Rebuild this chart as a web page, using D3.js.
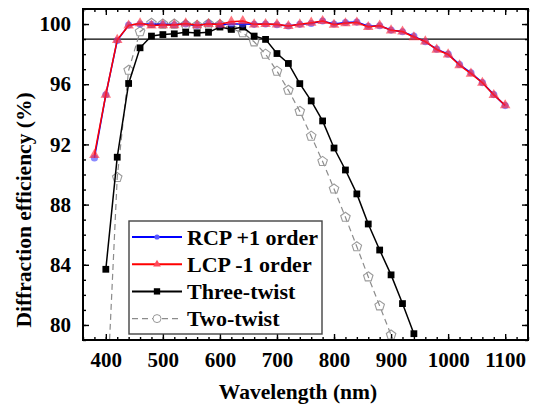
<!DOCTYPE html>
<html>
<head>
<meta charset="utf-8">
<script src="https://cdn.jsdelivr.net/npm/d3@7"></script>
<style>
  body { margin: 0; background: #fff; }
</style>
</head>
<body>
<div id="chart"></div>
<script>
// wavelength (nm) sampled every 20 nm
var wavelength = [380, 400, 420, 440, 460, 480, 500, 520, 540, 560,
  580, 600, 620, 640, 660, 680, 700, 720, 740, 760,
  780, 800, 820, 840, 860, 880, 900, 920, 940, 960,
  980, 1000, 1020, 1040, 1060, 1080, 1100];

var rcpPlus1 = [91.1, 95.3, 98.9, 99.93, 100.0, 99.98, 99.98, 99.95, 100.0, 99.9,
  100.04, 99.95, 100.0, 100.0, 99.98, 100.0, 99.95, 99.87, 99.98, 100.04,
  100.2, 100.0, 100.1, 100.13, 99.85, 99.89, 99.6, 99.49, 99.2, 98.82,
  98.33, 98.0, 97.31, 96.76, 96.11, 95.31, 94.58];

var lcpMinus1 = [91.3, 95.3, 98.95, 99.9, 100.05, 99.9, 99.93, 99.93, 100.04, 99.92,
  100.0, 99.98, 100.16, 100.2, 99.98, 100.0, 99.98, 99.87, 99.98, 100.09,
  100.2, 99.95, 100.05, 100.1, 99.8, 99.9, 99.58, 99.5, 99.12, 98.85,
  98.3, 97.98, 97.26, 96.7, 96.1, 95.28, 94.6];

var threeTwistWl = [400, 420, 440, 460, 480, 500, 520, 540, 560, 580,
  600, 620, 640, 660, 680, 700, 720, 740, 760, 780,
  800, 820, 840, 860, 880, 900, 920, 940];
var threeTwist = [83.7, 91.15, 96.05, 98.42, 99.2, 99.3, 99.35, 99.45, 99.4, 99.45,
  99.8, 99.65, 99.8, 99.2, 98.98, 98.04, 97.38, 96.04, 94.89, 93.56,
  91.76, 90.3, 88.71, 86.71, 84.98, 83.33, 81.42, 79.42];

var twoTwistWl = [400, 420, 440, 460, 480, 500, 520, 540, 560, 580,
  600, 620, 640, 660, 680, 700, 720, 740, 760, 780,
  800, 820, 840, 860, 880, 900];
var twoTwist = [73.7, 89.8, 96.93, 99.49, 100.05, 100.0, 100.0, 99.95, 99.9, 100.0,
  99.95, 99.71, 99.42, 98.82, 98.0, 96.87, 95.6, 94.2, 92.55, 90.87,
  89.04, 87.16, 85.2, 83.2, 81.27, 79.33];

var xTicks = [400, 500, 600, 700, 800, 900, 1000, 1100];
var yTicks = [80, 84, 88, 92, 96, 100];
var refLevel = 99;
var legendLabels = ['RCP +1 order', 'LCP -1 order', 'Three-twist', 'Two-twist'];

var FONT = '"Liberation Serif"';

var W = 536, H = 410,
    margin = {top: 9, right: 8, bottom: 70, left: 83},
    plotW = W - margin.left - margin.right,
    plotH = H - margin.top - margin.bottom;

var x = d3.scaleLinear().domain([360, 1140]).range([0, plotW]),
    y = d3.scaleLinear().domain([79, 101]).range([plotH, 0]);

var svg = d3.select('#chart').append('svg').attr('width', W).attr('height', H);
var g = svg.append('g').attr('transform', 'translate(' + margin.left + ',' + margin.top + ')');

g.append('defs').append('clipPath').attr('id', 'plot-clip')
  .append('rect').attr('width', plotW).attr('height', plotH);

function zip(xs, ys) {
  return xs.map(function (d, i) { return {x: d, y: ys[i]}; });
}

var series = [
  {name: legendLabels[3], data: zip(twoTwistWl, twoTwist), color: '#8c8c8c', dash: '6,4', marker: 'pent'},
  {name: legendLabels[2], data: zip(threeTwistWl, threeTwist), color: '#000', dash: null, marker: 'square'},
  {name: legendLabels[0], data: zip(wavelength, rcpPlus1), color: '#0000ff', dash: null, marker: 'circle'},
  {name: legendLabels[1], data: zip(wavelength, lcpMinus1), color: '#ff0000', dash: null, marker: 'tri'}
];

// axes: ticks point inward on all four sides
function tickAxes() {
  var xMinor = d3.range(360, 1141, 20), yMinor = d3.range(79, 101.1, 1);
  var bottom = g.append('g').attr('transform', 'translate(0,' + plotH + ')')
    .call(d3.axisBottom(x).tickValues(xTicks).tickSize(-6).tickPadding(12).tickFormat(d3.format('d')));
  g.append('g').attr('transform', 'translate(0,' + plotH + ')')
    .call(d3.axisBottom(x).tickValues(xMinor).tickSize(-3).tickFormat(''));
  g.append('g').call(d3.axisTop(x).tickValues(xTicks).tickSize(-6).tickFormat(''));
  g.append('g').call(d3.axisTop(x).tickValues(xMinor).tickSize(-3).tickFormat(''));
  var left = g.append('g')
    .call(d3.axisLeft(y).tickValues(yTicks).tickSize(-6).tickPadding(12).tickFormat(d3.format('d')));
  g.append('g').call(d3.axisLeft(y).tickValues(yMinor).tickSize(-3).tickFormat(''));
  g.append('g').attr('transform', 'translate(' + plotW + ',0)')
    .call(d3.axisRight(y).tickValues(yTicks).tickSize(-6).tickFormat(''));
  g.append('g').attr('transform', 'translate(' + plotW + ',0)')
    .call(d3.axisRight(y).tickValues(yMinor).tickSize(-3).tickFormat(''));
  g.selectAll('.domain').remove();
  g.selectAll('.tick line').attr('stroke', '#000').attr('stroke-width', 1.4);
  bottom.selectAll('text').style('font-size', '21px').attr('dy', '0.71em');
  left.selectAll('text').style('font-size', '21px');
}
tickAxes();

// reference line at 99 %
g.append('line').attr('x1', 0).attr('x2', plotW)
  .attr('y1', y(refLevel)).attr('y2', y(refLevel))
  .attr('stroke', '#000').attr('stroke-width', 1.3);

function pentagon(r) {
  var pts = d3.range(5).map(function (i) {
    var a = -Math.PI / 2 + i * 2 * Math.PI / 5;
    return [r * Math.cos(a), r * Math.sin(a)];
  });
  return 'M' + pts.join('L') + 'Z';
}

function drawMarker(sel, s) {
  if (s.marker === 'pent') {
    sel.append('path').attr('d', pentagon(5)).attr('fill', 'none')
      .attr('stroke', '#9a9a9a').attr('stroke-width', 1.1);
  } else if (s.marker === 'square') {
    sel.append('path').attr('d', d3.symbol().type(d3.symbolSquare).size(46)()).attr('fill', '#000');
  } else if (s.marker === 'circle') {
    sel.append('path').attr('d', d3.symbol().type(d3.symbolCircle).size(40)())
      .attr('fill', '#3c3cff').attr('fill-opacity', 0.6);
  } else {
    sel.append('path').attr('d', d3.symbol().type(d3.symbolTriangle).size(48)())
      .attr('fill', '#ff2a3a').attr('fill-opacity', 0.65);
  }
}

var line = d3.line().x(function (d) { return x(d.x); }).y(function (d) { return y(d.y); });
var plot = g.append('g').attr('clip-path', 'url(#plot-clip)');

series.forEach(function (s) {
  var sg = plot.append('g');
  sg.append('path').datum(s.data).attr('d', line).attr('fill', 'none')
    .attr('stroke', s.color).attr('stroke-width', s.marker === 'pent' ? 1.2 : 1.5)
    .attr('stroke-dasharray', s.dash);
  sg.selectAll('g.pt').data(s.data).enter().append('g').attr('class', 'pt')
    .attr('transform', function (d) { return 'translate(' + x(d.x) + ',' + y(d.y) + ')'; })
    .each(function () { drawMarker(d3.select(this), s); });
});

// frame
g.append('rect').attr('width', plotW).attr('height', plotH)
  .attr('fill', 'none').attr('stroke', '#000').attr('stroke-width', 2);

// legend
var legendOrder = [series[2], series[3], series[1], series[0]];
var lg = svg.append('g').attr('transform', 'translate(129,221)');
lg.append('rect').attr('width', 193).attr('height', 113)
  .attr('fill', '#fff').attr('stroke', '#444').attr('stroke-width', 1.4);
legendOrder.forEach(function (s, i) {
  var row = lg.append('g').attr('transform', 'translate(0,' + (16 + i * 27.2) + ')');
  row.append('line').attr('x1', 3).attr('x2', 53).attr('y1', 0).attr('y2', 0)
    .attr('stroke', s.color).attr('stroke-width', s.marker === 'pent' ? 1.2 : 2)
    .attr('stroke-dasharray', s.dash);
  var m = row.append('g').attr('transform', 'translate(28,0)');
  if (s.marker === 'pent') {
    m.append('circle').attr('r', 4).attr('fill', '#fff').attr('stroke', '#9a9a9a');
  } else if (s.marker === 'circle') {
    m.append('circle').attr('r', 2.6).attr('fill', '#5a5aff');
  } else if (s.marker === 'tri') {
    m.append('path').attr('d', d3.symbol().type(d3.symbolTriangle).size(26)()).attr('fill', '#ff4a5a');
  } else {
    m.append('path').attr('d', d3.symbol().type(d3.symbolSquare).size(40)()).attr('fill', '#000');
  }
  row.append('text').attr('x', 58).attr('y', 0).attr('dy', '0.35em')
    .style('font-size', '22px').text(s.name);
});

// axis titles
svg.append('text').attr('x', 298).attr('y', 399).attr('text-anchor', 'middle')
  .style('font-size', '21.5px').text('Wavelength (nm)');
svg.append('text').attr('transform', 'translate(31,210) rotate(-90)').attr('text-anchor', 'middle')
  .style('font-size', '21.5px').text('Diffraction efficiency (%)');

svg.selectAll('g').attr('font-family', null);
svg.selectAll('text').style('font-family', FONT).style('font-weight', 'bold').attr('fill', '#000');
</script>
</body>
</html>
